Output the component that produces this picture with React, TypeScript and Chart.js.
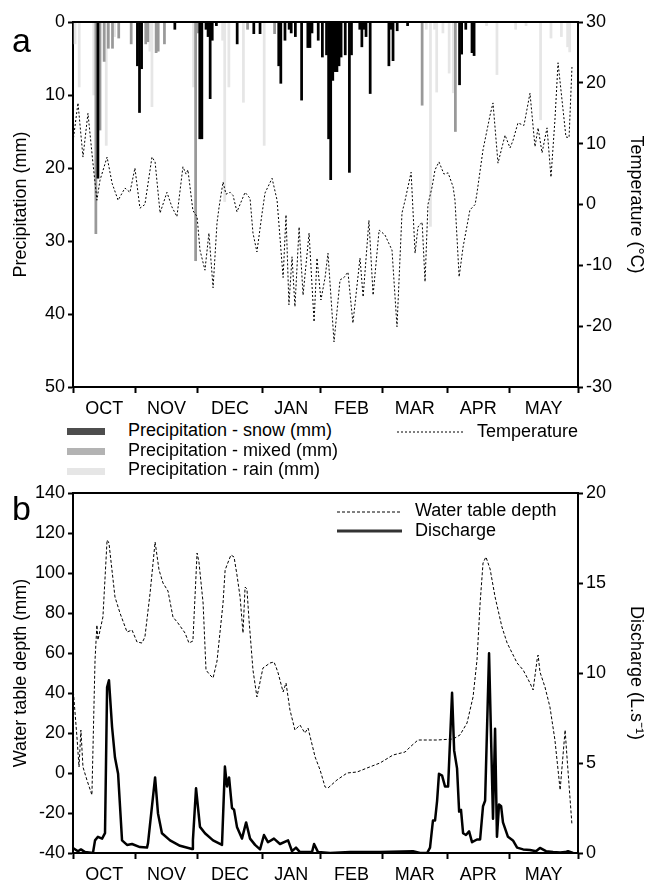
import React, { useEffect, useRef } from 'react';
import { Chart, registerables } from 'chart.js';

Chart.register(...registerables);

const FONT = "'Liberation Sans', Arial, Helvetica, sans-serif";

// ---- axis categories (day index from 1 Oct) ----
const MONTH_LABELS = ['OCT', 'NOV', 'DEC', 'JAN', 'FEB', 'MAR', 'APR', 'MAY'];
const MONTH_EDGES = [0, 30, 60, 91, 119, 149, 180, 210, 243];

// ---- panel a: daily precipitation (mm), [day, mm] ----
const SNOW: [number, number][] = [
  [12, 21.4], [31, 6], [32, 12.4], [33, 6.4], [49, 1], [61, 16], [62, 16], [64, 1], [65, 2], [66, 10.5],
  [67, 2.5], [69, 0.5], [79, 3], [87, 1.6], [90, 1.6], [99, 6], [100, 8.4], [102, 2.5], [104, 1], [105, 1.5],
  [107, 2], [110, 10.7], [113, 3.5], [114, 3.5], [115, 1.5], [118, 2.5], [120, 4.8], [122, 4.5], [123, 16],
  [124, 21.6], [125, 8], [126, 6.8], [127, 6.8], [128, 6], [129, 4.8], [131, 4.5], [133, 20.6], [134, 4.5],
  [138, 1], [139, 3.4], [140, 1], [141, 2], [143, 9.8], [152, 6], [153, 1], [154, 5.3], [156, 1.2], [161, 0.5],
  [186, 8.6], [187, 4.4], [189, 1], [192, 4.2], [193, 4.6],
];
const MIXED: [number, number][] = [
  [11, 29], [13, 14.8], [15, 5.4], [17, 3.6], [19, 3.6], [22, 2.2], [28, 3], [35, 3], [36, 2.7], [40, 4.2],
  [41, 4], [44, 3], [59, 32.7], [60, 1.5], [84, 1], [97, 1.6], [168, 11.4], [184, 15],
];
const RAIN: [number, number][] = [
  [1, 3], [3, 8.9], [10, 10], [16, 16.9], [20, 2], [37, 4], [38, 11.6], [58, 8.9], [72, 2.5], [73, 24.6],
  [75, 8.9], [82, 11], [92, 16.9], [170, 1], [172, 28], [174, 1], [175, 9.6], [178, 1.5], [181, 7], [183, 9.7],
  [199, 0.5], [204, 7.2], [213, 1], [218, 0.5], [225, 13.4], [230, 2.2], [235, 2], [238, 3.4], [239, 4.1],
];
// ---- panel a: air temperature (°C), [day, °C] ----
const TEMPERATURE: [number, number][] = [
  [0, 10.3], [2.4, 16.7], [4.8, 7.8], [7.2, 15], [9.6, 6.8], [11.5, 0.7], [13, 4], [16.4, 7.8], [18.8, 3.5],
  [21.7, 0.7], [25, 2.7], [27.4, 2], [29.8, 6], [32.2, -0.6], [34.6, 0], [38, 7.8], [39.5, 7], [41.9, -1.4],
  [45.2, 2], [47.6, -0.4], [50, -2], [52.9, 6.2], [54.4, 5], [55.3, 5.7], [57.7, -1], [59.7, -2], [61.1, -7.5],
  [63.5, -10.8], [65.4, -4.7], [67.4, -13.7], [69.3, -3], [70.3, -0.4], [72.2, 3.7], [73.6, 1.7], [75.6, 2],
  [77, 1.5], [78.9, -1.2], [82.8, 2], [85.2, 1], [86.6, -4.7], [88.5, -7.8], [91, -1.4], [92.4, 1.9],
  [95.8, 4.3], [98.2, 0.7], [101.1, -12], [102.5, -1.7], [103.9, -16.5], [105.4, -8.6], [106.8, -16.8],
  [108.8, -3.7], [110.7, -14.9], [113.6, -4.7], [116, -19.3], [117.4, -8.8], [119.3, -15.7], [121.3, -12],
  [122.7, -8], [125.6, -22.6], [128.5, -12.4], [130.4, -12], [132.3, -11.1], [134.7, -19.5], [138.1, -8.8],
  [139.6, -15.2], [142.4, -2.6], [144.4, -14.9], [147.3, -4.2], [150.1, -5], [153.5, -7.5], [155.9, -20.1],
  [158.3, -1.4], [159.8, 0.7], [162.7, 5.3], [164.6, -8], [166, -3.7], [168, -2.9], [169.4, -12.7],
  [170.8, 0], [172.8, 2.9], [174.2, 5.7], [176.1, 7], [178.5, 5], [180.5, 5.2], [182.9, 2.9], [183.8, 0.7],
  [185.8, -11.9], [187.7, -7], [191, -0.9], [193.5, 0], [194.4, 1.9], [197.3, 9], [200.7, 14.7],
  [202.1, 16.7], [204.5, 6.8], [207.9, 11.4], [210.3, 9.3], [211.7, 10.5], [214.1, 13.4], [217, 13],
  [219.9, 18.3], [222.3, 9.5], [223.8, 12.6], [225.7, 8.5], [228.1, 12.6], [230, 4.5], [231.9, 13.9],
  [233.4, 23.3], [235.3, 17.2], [237.2, 11.1], [238.7, 11], [240.1, 22.6],
];

// ---- panel b: water table depth (mm), [day, mm] ----
const WATER_TABLE: [number, number][] = [
  [0, 43], [1.9, 18], [2.9, 3], [3.8, 21.5], [4.8, 3], [6.7, -3.5], [9.1, -11], [10.6, 56.5], [11.5, 74],
  [12, 66.5], [14.4, 78], [16.4, 116.5], [17.3, 115], [20.2, 88], [22.6, 80], [26, 70.5], [28.4, 71.5],
  [30.8, 65.5], [33.2, 65], [34.6, 68], [37.1, 90], [39.5, 115.5], [41.4, 101.5], [43.3, 95], [45.7, 91],
  [48.1, 78], [50.5, 75], [53.9, 70], [55.8, 65], [57.7, 66], [59.7, 110], [60.6, 105.5], [62.6, 85],
  [64, 51.5], [65.9, 49], [67.4, 47.5], [69.3, 56], [72.2, 85], [73.2, 101.5], [74.1, 104], [76, 109],
  [77.5, 108], [78.9, 99], [80.4, 88], [81.8, 70], [82.8, 93], [83.7, 92], [84.7, 76.5], [86.6, 51.5],
  [88.5, 38], [91.4, 52.5], [94.8, 55], [96.7, 55.5], [97.7, 53], [98.7, 50], [101.1, 40.5], [102.5, 45],
  [104.4, 31.5], [106.8, 21.5], [109.2, 24], [111.6, 20], [113.1, 22.5], [116.5, 8], [118.9, 1.5],
  [121.3, -7], [122.7, -7.5], [127, -3.5], [131.9, 0], [136.7, 0.5], [141.5, 2.5], [147.7, 5], [154, 9],
  [159.8, 10.5], [162.2, 13], [166, 16.5], [175.2, 16.5], [182.9, 17], [186.2, 19], [189.6, 25],
  [192.5, 38], [194.4, 56.5], [195.9, 85], [197.3, 105], [198.7, 108], [200.7, 102], [203.1, 88],
  [206.4, 73], [208.9, 65], [213.7, 55], [216.6, 51.5], [219.9, 45], [221.4, 41.5], [223.3, 56.5],
  [223.8, 59], [224.7, 50.5], [227.1, 43], [229.5, 33], [231.9, 16.5], [234.4, -8.5], [236.8, 21.5],
  [237.7, 8], [240.1, -26],
];
// ---- panel b: discharge (L/s), [day, L/s] ----
const DISCHARGE: [number, number][] = [
  [0, 0.28], [2.4, 0.1], [3.8, 0.2], [5.8, 0.05], [9.6, 0], [10.6, 0.7], [12, 0.9], [14, 0.8], [15.4, 1.1],
  [16.4, 9.2], [17.3, 9.6], [18.8, 7], [20.2, 5.3], [21.7, 4.4], [23.6, 0.7], [26, 0.45], [28.4, 0.5],
  [32.2, 0.33], [35.6, 0.3], [36.1, 0.55], [39.5, 4.2], [40.9, 2.2], [42.8, 1.1], [46.7, 0.7], [51.5, 0.4],
  [57.3, 0.22], [57.7, 0.7], [59.2, 3.6], [61.1, 1.45], [63.5, 1.1], [67.4, 0.7], [71.7, 0.45], [73.1, 4.8],
  [74.1, 3.7], [75.1, 4.2], [76.5, 2.5], [77.5, 2.4], [78.9, 1.45], [81.3, 0.8], [83.3, 1.7], [85.2, 0.8],
  [87.6, 0.45], [90, 0.2], [91.9, 1], [93.8, 0.6], [96.7, 0.8], [99.6, 0.5], [103.5, 0.7], [105.4, 0.1],
  [107.3, 0.3], [109.2, 0.05], [115, 0.05], [116, 0.5], [117.9, 0.05], [123.7, 0], [133.3, 0.05],
  [147.7, 0.05], [163.6, 0.1], [167, 0], [170.4, 0], [171.8, 0.3], [173.2, 1.8], [174.2, 1.8], [175.2, 2.9],
  [176.1, 4.4], [177.6, 4.3], [179, 3.7], [180.5, 3.7], [182.4, 8.9], [183.4, 5.7], [184.8, 4.7],
  [185.8, 2.3], [186.7, 2.4], [187.7, 1.1], [189.1, 1], [190.6, 1.2], [192, 0.6], [194.4, 0.75],
  [195.9, 0.75], [197.3, 2.6], [198.3, 2.9], [200.2, 11.1], [202.1, 1.9], [203.1, 6.9], [204, 0.9],
  [205, 2.7], [206, 2.6], [206.9, 1.7], [209.3, 0.9], [211.7, 0.7], [213.7, 0.3], [216.6, 0.2],
  [219.9, 0.17], [222.8, 0.1], [224.7, 0.28], [227.6, 0.1], [231, 0.05], [234.4, 0.03], [236.8, 0.05],
  [238.2, 0.1], [240.6, 0],
];

const toXY = (arr: [number, number][]) => arr.map(([x, y]) => ({ x, y }));
const monthMid = (i: number) => (MONTH_EDGES[i] + MONTH_EDGES[i + 1]) / 2;
const isEdge = (v: number) => MONTH_EDGES.some((e) => Math.abs(e - v) < 1e-6);
const monthLabel = (v: number) => {
  const i = MONTH_LABELS.findIndex((_, k) => Math.abs(monthMid(k) - v) < 1e-6);
  return i >= 0 ? MONTH_LABELS[i] : '';
};

const tickFont = { family: FONT, size: 18 };

const xAxis = (height: number): any => ({
  type: 'linear',
  position: 'bottom',
  min: 0,
  max: 243,
  offset: false,
  afterBuildTicks: (scale: any) => {
    const vals = [...MONTH_EDGES, ...MONTH_LABELS.map((_, i) => monthMid(i))].sort((a, b) => a - b);
    scale.ticks = vals.map((v) => ({ value: v }));
  },
  afterFit: (s: any) => { s.height = height; },
  ticks: {
    autoSkip: false, maxRotation: 0, minRotation: 0, padding: 5,
    font: tickFont, color: '#000',
    callback: (v: any) => monthLabel(Number(v)),
  },
  grid: {
    display: true, drawOnChartArea: false, drawTicks: true, offset: false,
    tickLength: 6, tickWidth: 2,
    tickColor: (c: any) => (c.tick && isEdge(c.tick.value) ? '#000' : 'rgba(0,0,0,0)'),
  },
  border: { display: true, color: '#000', width: 2 },
});

const yAxis = (o: {
  position: 'left' | 'right'; min: number; max: number; step: number; reverse?: boolean;
  width: number; title: string; titlePad: number;
}): any => ({
  type: 'linear',
  position: o.position,
  min: o.min,
  max: o.max,
  reverse: !!o.reverse,
  afterFit: (s: any) => { s.width = o.width; },
  ticks: { stepSize: o.step, padding: 3, font: tickFont, color: '#000' },
  grid: { drawOnChartArea: false, drawTicks: true, tickLength: 5, tickWidth: 2, tickColor: '#000' },
  border: { display: true, color: '#000', width: 2 },
  title: {
    display: true, text: o.title, color: '#000',
    font: { family: FONT, size: 18 }, padding: { top: o.titlePad, bottom: 0 },
  },
});

const topFrame = {
  id: 'topFrame',
  afterDraw(chart: any) {
    const { ctx, chartArea: a } = chart;
    ctx.save();
    ctx.strokeStyle = '#000';
    ctx.lineWidth = 2;
    ctx.beginPath();
    ctx.moveTo(a.left - 1, a.top);
    ctx.lineTo(a.right + 1, a.top);
    ctx.stroke();
    ctx.restore();
  },
};

function PrecipChart() {
  const ref = useRef<HTMLCanvasElement>(null);
  useEffect(() => {
    const barCommon = {
      type: 'bar' as const, grouped: false, barPercentage: 1, categoryPercentage: 1,
      borderWidth: 0, xAxisID: 'x', yAxisID: 'y',
    };
    const chart = new Chart(ref.current as HTMLCanvasElement, {
      type: 'bar',
      data: {
        datasets: [
          { ...barCommon, label: 'Precipitation - rain (mm)', data: toXY(RAIN), backgroundColor: '#e6e6e6', order: 3 },
          { ...barCommon, label: 'Precipitation - mixed (mm)', data: toXY(MIXED), backgroundColor: '#999999', order: 2 },
          { ...barCommon, label: 'Precipitation - snow (mm)', data: toXY(SNOW), backgroundColor: '#000000', order: 1 },
          {
            type: 'line', label: 'Temperature', data: toXY(TEMPERATURE), xAxisID: 'x', yAxisID: 'y2',
            borderColor: '#000', borderWidth: 1, borderDash: [2, 2], pointRadius: 0, tension: 0, fill: false, order: 0,
          } as any,
        ],
      },
      options: {
        responsive: false,
        animation: false,
        layout: { padding: { top: 22, left: 0, right: 0, bottom: 0 } },
        plugins: { legend: { display: false }, tooltip: { enabled: false } },
        scales: {
          x: xAxis(33),
          y: yAxis({ position: 'left', min: 0, max: 50, step: 10, reverse: true, width: 73, title: 'Precipitation (mm)', titlePad: 10 }),
          y2: yAxis({ position: 'right', min: -30, max: 30, step: 10, width: 72, title: 'Temperature (°C)', titlePad: 3 }),
        },
      },
      plugins: [topFrame],
    });
    return () => chart.destroy();
  }, []);
  return (
    <canvas ref={ref} width={650} height={420}
      style={{ position: 'absolute', left: 0, top: 0, width: 650, height: 420 }} />
  );
}

function HydroChart() {
  const ref = useRef<HTMLCanvasElement>(null);
  useEffect(() => {
    const chart = new Chart(ref.current as HTMLCanvasElement, {
      type: 'line',
      data: {
        datasets: [
          {
            label: 'Water table depth', data: toXY(WATER_TABLE), xAxisID: 'x', yAxisID: 'y',
            borderColor: '#000', borderWidth: 1, borderDash: [3, 2], pointRadius: 0, tension: 0, fill: false,
          },
          {
            label: 'Discharge', data: toXY(DISCHARGE), xAxisID: 'x', yAxisID: 'y2',
            borderColor: '#000', borderWidth: 2.5, pointRadius: 0, tension: 0, fill: false,
            borderJoinStyle: 'round',
          } as any,
        ],
      },
      options: {
        responsive: false,
        animation: false,
        layout: { padding: { top: 15, left: 0, right: 0, bottom: 0 } },
        plugins: { legend: { display: false }, tooltip: { enabled: false } },
        scales: {
          x: xAxis(29),
          y: yAxis({ position: 'left', min: -40, max: 140, step: 20, width: 73, title: 'Water table depth (mm)', titlePad: 10 }),
          y2: yAxis({ position: 'right', min: 0, max: 20, step: 5, width: 72, title: 'Discharge (L.s⁻¹)', titlePad: 3 }),
        },
      },
      plugins: [topFrame],
    });
    return () => chart.destroy();
  }, []);
  return (
    <canvas ref={ref} width={650} height={404}
      style={{ position: 'absolute', left: 0, top: 478, width: 650, height: 404 }} />
  );
}

const txt = (left: number, top: number, size = 18): React.CSSProperties => ({
  position: 'absolute', left, top, fontFamily: FONT, fontSize: size, lineHeight: `${size}px`,
  color: '#000', whiteSpace: 'nowrap', margin: 0,
});

export default function App() {
  return (
    <div style={{ position: 'absolute', left: 0, top: 0, width: 650, height: 882, overflow: 'hidden', background: '#fff' }}>
      <PrecipChart />
      <HydroChart />
      {/* panel letters */}
      <div style={txt(12, 23, 34)}>a</div>
      <div style={txt(12, 491, 34)}>b</div>
      {/* legend panel a */}
      <div style={{ position: 'absolute', left: 67, top: 428, width: 38, height: 7, background: '#4d4d4d' }} />
      <div style={{ position: 'absolute', left: 67, top: 448, width: 38, height: 7, background: '#b3b3b3' }} />
      <div style={{ position: 'absolute', left: 67, top: 468, width: 38, height: 7, background: '#e6e6e6' }} />
      <div style={txt(128, 421)}>Precipitation - snow (mm)</div>
      <div style={txt(128, 440.5)}>Precipitation - mixed (mm)</div>
      <div style={txt(128, 460)}>Precipitation - rain (mm)</div>
      <svg style={{ position: 'absolute', left: 397, top: 428, overflow: 'visible' }} width={70} height={8}>
        <line x1={0} y1={4} x2={68} y2={4} stroke="#000" strokeWidth={1} strokeDasharray="2 2" />
      </svg>
      <div style={txt(477, 422)}>Temperature</div>
      {/* legend panel b */}
      <svg style={{ position: 'absolute', left: 337, top: 508, overflow: 'visible' }} width={66} height={30}>
        <line x1={0} y1={4} x2={65} y2={4} stroke="#000" strokeWidth={1} strokeDasharray="3 2" />
        <line x1={0} y1={23} x2={65} y2={23} stroke="#333" strokeWidth={3} />
      </svg>
      <div style={txt(415, 501)}>Water table depth</div>
      <div style={txt(415, 521)}>Discharge</div>
    </div>
  );
}
